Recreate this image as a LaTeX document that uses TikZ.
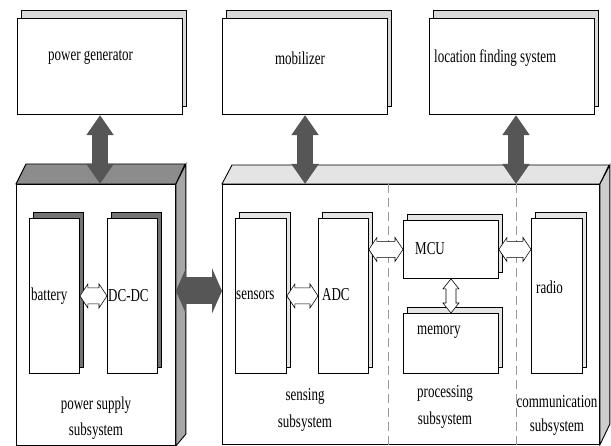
\documentclass[tikz,border=0pt]{standalone}
\usepackage{fontspec}
\setmainfont{Liberation Serif}
\usepackage{graphicx}
\usetikzlibrary{positioning,arrows.meta,calc,shadows}
\definecolor{fatgray}{HTML}{565656}
\definecolor{darkface}{HTML}{8C8C8C}
\definecolor{lightface}{HTML}{E4E4E4}
\newcommand{\tall}[1]{\scalebox{1}[1.4]{#1}}
\newcommand{\hollowh}[2]{\draw[hollow] let \p1=(#1), \p2=(#2) in
  (\x1,\y1) -- (\x1+8pt,\y1+12pt) -- (\x1+8pt,\y1+8pt) -- (\x2-8pt,\y1+8pt) -- (\x2-8pt,\y1+12pt)
  -- (\x2,\y1) -- (\x2-8pt,\y1-12pt) -- (\x2-8pt,\y1-8pt) -- (\x1+8pt,\y1-8pt) -- (\x1+8pt,\y1-12pt) -- cycle;}
\newcommand{\hollowv}[2]{\draw[hollow] let \p1=(#1), \p2=(#2) in
  (\x1,\y1) -- (\x1+8pt,\y1-10pt) -- (\x1+5pt,\y1-10pt) -- (\x1+5pt,\y2+10pt) -- (\x1+8pt,\y2+10pt)
  -- (\x1,\y2) -- (\x1-8pt,\y2+10pt) -- (\x1-5pt,\y2+10pt) -- (\x1-5pt,\y1-10pt) -- (\x1-8pt,\y1-10pt) -- cycle;}
\tikzset{
  unitbox/.style={draw=black, line width=0.9pt, fill=white, inner sep=0pt, anchor=north west},
  topbox/.style={unitbox, line width=1.1pt, general shadow={draw=black, fill=black!15, shadow xshift=4pt, shadow yshift=8pt}},
  darkbox/.style={unitbox, general shadow={draw=black, fill=black!55, shadow xshift=4pt, shadow yshift=6pt}},
  litebox/.style={unitbox, general shadow={draw=black, fill=black!10, shadow xshift=4pt, shadow yshift=6pt}},
  block/.style={draw=black, line width=0.9pt, fill=white, inner sep=0pt, anchor=north west},
  face/.style={draw=black, line width=0.9pt},
  lbl/.style={font=\fontsize{13}{15}\selectfont, inner sep=0pt, anchor=west},
  sublbl/.style={lbl, anchor=center, align=center},
  fat/.style={fatgray, line width=#1},
  hollow/.style={draw=black, line width=0.6pt, fill=white},
  sepline/.style={black!40, line width=0.8pt, dash pattern=on 9pt off 5pt}
}

\begin{document}
\begin{tikzpicture}[x=1pt, y=-1pt]
  \useasboundingbox (0,0) rectangle (611,446);
  % outside units
  \node[topbox, minimum width=165pt, minimum height=96pt] (pgen) at (17,18) {};
  \node[topbox, minimum width=165pt, minimum height=96pt] (mob) at (222,18) {};
  \node[topbox, minimum width=165pt, minimum height=96pt] (loc) at (429,18) {};
  \node[lbl] (pgenlbl) at (48,57) {\tall{power generator}};
  \node[lbl, anchor=center] (moblbl) at (300,58) {\tall{mobilizer}};
  \node[lbl] (loclbl) at (434,58) {\tall{location finding system}};

  % power supply block
  \node[block, minimum width=159pt, minimum height=261pt] (psu) at (16,184) {};
  \filldraw[face, fill=darkface] (psu.north west) -- ++(10,-20) -- ++(159,0) -- (psu.north east) -- cycle;
  \filldraw[face, fill=black!35] (psu.north east) -- ++(10,-20) -- ++(0,270) -- (psu.south east) -- cycle;
  \node[darkbox, minimum width=50pt, minimum height=155pt] (battery) at (29,218) {};
  \node[darkbox, minimum width=50pt, minimum height=155pt] (dcdc) at (107,218) {};
  \node[lbl] (batlbl) at (31,296) {\tall{battery}};
  \node[lbl] (dclbl) at (108,296) {\tall{DC-DC}};
  \node[sublbl] (psulbl) at (96,418) {\tall{power supply}\\[9pt]\tall{subsystem}};
  \hollowh{battery.east}{dcdc.west}

  % node block
  \node[block, minimum width=377pt, minimum height=260pt] (sys) at (222,184) {};
  \filldraw[face, fill=lightface] (sys.north west) -- ++(10,-19) -- ++(377,0) -- (sys.north east) -- cycle;
  \filldraw[face, fill=lightface!90!black] (sys.north east) -- ++(10,-19) -- ++(0,259) -- (sys.south east) -- cycle;
  \coordinate (sep1) at (388,184);
  \coordinate (sep2) at (516,184);
  \draw[sepline] (sep1) -- (sep1 |- sys.south);
  \draw[sepline] (sep2) -- (sep2 |- sys.south);
  \node[litebox, minimum width=51pt, minimum height=155pt] (sensors) at (235,218) {};
  \node[litebox, minimum width=50pt, minimum height=155pt] (adc) at (318,218) {};
  \node[litebox, minimum width=95pt, minimum height=58pt] (mcu) at (403,220) {};
  \node[litebox, minimum width=95pt, minimum height=60pt] (memory) at (403,313) {};
  \node[litebox, minimum width=51pt, minimum height=155pt] (radio) at (531,218) {};
  \node[lbl] (senslbl) at (236,295) {\tall{sensors}};
  \node[lbl] (adclbl) at (322,295) {\tall{ADC}};
  \node[lbl] (mculbl) at (415,249) {\tall{MCU}};
  \node[lbl] (memlbl) at (417,332) {\tall{memory}};
  \node[lbl] (radiolbl) at (536,287) {\tall{radio}};
  \node[sublbl] (senssub) at (305,410) {\tall{sensing}\\[9pt]\tall{subsystem}};
  \node[sublbl] (procsub) at (445,407) {\tall{processing}\\[9pt]\tall{subsystem}};
  \node[sublbl] (commsub) at (557,415) {\tall{communication}\\[9pt]\tall{subsystem}};
  \hollowh{sensors.east}{adc.west}
  \hollowh{adc.east |- mcu.west}{mcu.west}
  \hollowh{mcu.east}{radio.west |- mcu.east}
  \hollowv{mcu.south}{memory.north}

  % links between units
  \draw[fat=16pt, {Triangle[length=20pt,width=26pt]}-{Triangle[length=20pt,width=26pt]}]
    (pgen.south) -- (pgen.south |- psu.north);
  \draw[fat=16pt, {Triangle[length=20pt,width=26pt]}-{Triangle[length=20pt,width=26pt]}]
    (mob.south) -- (mob.south |- sys.north);
  \draw[fat=16pt, {Triangle[length=20pt,width=26pt]}-{Triangle[length=20pt,width=26pt]}]
    (loc.south -| sep2) -- (sep2);
  \draw[fat=27pt, {Triangle[length=10pt,width=45pt]}-{Triangle[length=10pt,width=45pt]}]
    ([yshift=24pt]psu.east) -- ([yshift=24pt]psu.east -| sys.west);
\end{tikzpicture}
\end{document}
